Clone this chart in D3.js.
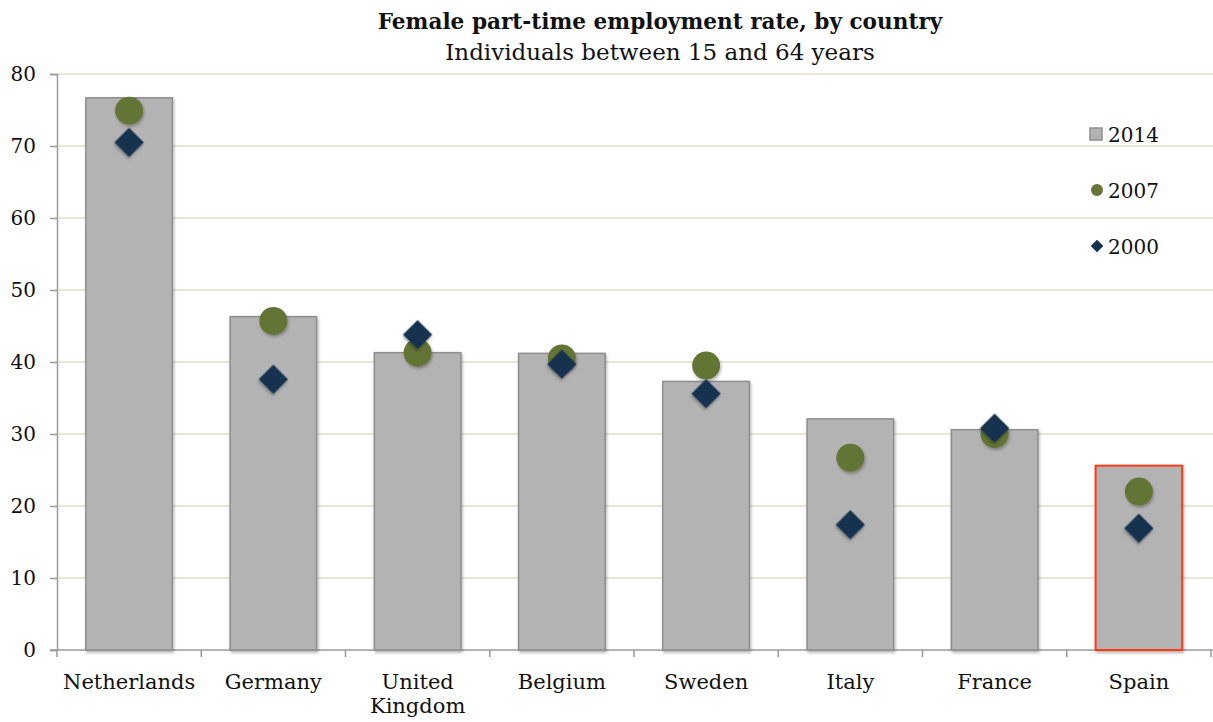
<!DOCTYPE html>
<html>
<head>
<meta charset="utf-8">
<script src="https://cdn.jsdelivr.net/npm/d3@7"></script>
<style>
  html, body { margin: 0; padding: 0; background: #fff; }
  svg { display: block; }
  text { font-family: "DejaVu Serif", serif; fill: #111; }
</style>
</head>
<body>
<svg id="chart" width="1213" height="722"></svg>
<script>
const categories = ["Netherlands", "Germany", "United Kingdom", "Belgium", "Sweden", "Italy", "France", "Spain"];
const values2014 = [76.7, 46.3, 41.3, 41.2, 37.3, 32.1, 30.6, 25.6];
const values2007 = [74.9, 45.7, 41.3, 40.5, 39.5, 26.7, 30.0, 22.0];
const values2000 = [70.5, 37.6, 43.8, 39.7, 35.6, 17.4, 30.8, 16.9];
const yTicks = [0, 10, 20, 30, 40, 50, 60, 70, 80];
const highlight = "Spain";
const titleText = "Female part-time employment rate, by country";
const subtitleText = "Individuals between 15 and 64 years";
const legendLabels = ["2014", "2007", "2000"];

const svg = d3.select("#chart");
const W = 1213, H = 722;
const m = { left: 57, right: 2, top: 74, bottom: 72 };

const x = d3.scaleBand().domain(categories).range([m.left, 1211]).paddingInner(0.4).paddingOuter(0.2);
const y = d3.scaleLinear().domain([0, 80]).range([650, 74]);

const defs = svg.append("defs");
const f = defs.append("filter").attr("id", "shadow").attr("x", "-30%").attr("y", "-30%").attr("width", "160%").attr("height", "160%");
f.append("feDropShadow").attr("dx", 1).attr("dy", 2).attr("stdDeviation", 1.5).attr("flood-color", "#000").attr("flood-opacity", 0.3);

// gridlines
svg.append("g").selectAll("line").data(yTicks.filter(d => d > 0)).join("line")
  .attr("x1", m.left).attr("x2", W)
  .attr("y1", d => y(d)).attr("y2", d => y(d))
  .attr("stroke", "#e2ddcc").attr("stroke-width", 1.5);

// y axis
const yAxis = svg.append("g").attr("transform", `translate(${m.left},0)`)
  .call(d3.axisLeft(y).tickValues(yTicks).tickSize(7).tickPadding(14));
yAxis.select(".domain").attr("stroke", "#9a9a9a").attr("stroke-width", 1.5);
yAxis.selectAll(".tick line").attr("stroke", "#9a9a9a").attr("stroke-width", 1.5);
yAxis.selectAll(".tick text").attr("font-size", 20).attr("font-family", "DejaVu Serif").attr("fill", "#111");

// x axis line + ticks at band boundaries
const step = x.step();
const boundaries = categories.map(c => x(c) - (step - x.bandwidth()) / 2).concat([x(categories[categories.length - 1]) + x.bandwidth() + (step - x.bandwidth()) / 2]);
svg.append("line").attr("x1", m.left - 7).attr("x2", W).attr("y1", y(0)).attr("y2", y(0))
  .attr("stroke", "#9a9a9a").attr("stroke-width", 1.5);
svg.append("g").selectAll("line").data(boundaries).join("line")
  .attr("x1", d => d).attr("x2", d => d).attr("y1", y(0)).attr("y2", y(0) + 7)
  .attr("stroke", "#9a9a9a").attr("stroke-width", 1.5);

// bars
svg.append("g").selectAll("rect").data(categories).join("rect")
  .attr("x", c => x(c)).attr("width", x.bandwidth())
  .attr("y", (c, i) => y(values2014[i])).attr("height", (c, i) => y(0) - y(values2014[i]))
  .attr("fill", "#b3b3b3")
  .attr("stroke", c => c === highlight ? "#ff3b14" : "#8e8e8e")
  .attr("stroke-width", c => c === highlight ? 2 : 1.5)
  .attr("filter", "url(#shadow)");

// 2007 circles
svg.append("g").selectAll("circle").data(categories).join("circle")
  .attr("cx", c => x(c) + x.bandwidth() / 2)
  .attr("cy", (c, i) => y(values2007[i]))
  .attr("r", 14)
  .attr("fill", "#647535")
  .attr("filter", "url(#shadow)");

// 2000 diamonds
const diamond = d3.symbol().type(d3.symbolSquare).size(430);
svg.append("g").selectAll("path").data(categories).join("path")
  .attr("d", diamond)
  .attr("transform", (c, i) => `translate(${x(c) + x.bandwidth() / 2},${y(values2000[i])}) rotate(45)`)
  .attr("fill", "#14324f")
  .attr("filter", "url(#shadow)");

// x labels
const xl = svg.append("g").selectAll("text").data(categories).join("text")
  .attr("x", c => x(c) + x.bandwidth() / 2)
  .attr("y", 689)
  .attr("text-anchor", "middle")
  .attr("font-size", 21);
xl.each(function(c) {
  const words = c === "United Kingdom" ? ["United", "Kingdom"] : [c];
  const t = d3.select(this);
  words.forEach((w, i) => {
    t.append("tspan").attr("x", x(c) + x.bandwidth() / 2).attr("dy", i === 0 ? 0 : 24).text(w);
  });
});

// title
svg.append("text").attr("x", 660).attr("y", 29).attr("text-anchor", "middle")
  .attr("font-size", 21.6).attr("font-weight", "bold").text(titleText);
svg.append("text").attr("x", 660).attr("y", 60).attr("text-anchor", "middle")
  .attr("font-size", 23).text(subtitleText);

// legend
const lg = svg.append("g");
const ly = [134, 190, 246];
lg.append("rect").attr("x", 1090).attr("y", ly[0] - 6).attr("width", 12).attr("height", 12)
  .attr("fill", "#b3b3b3").attr("stroke", "#8e8e8e").attr("stroke-width", 1.5);
lg.append("circle").attr("cx", 1097).attr("cy", ly[1]).attr("r", 6).attr("fill", "#647535");
lg.append("path").attr("d", d3.symbol().type(d3.symbolSquare).size(80))
  .attr("transform", `translate(1097,${ly[2]}) rotate(45)`).attr("fill", "#14324f");
lg.selectAll("text").data(legendLabels).join("text")
  .attr("x", 1108).attr("y", (d, i) => ly[i] + 8).attr("font-size", 20).text(d => d);
</script>
</body>
</html>
